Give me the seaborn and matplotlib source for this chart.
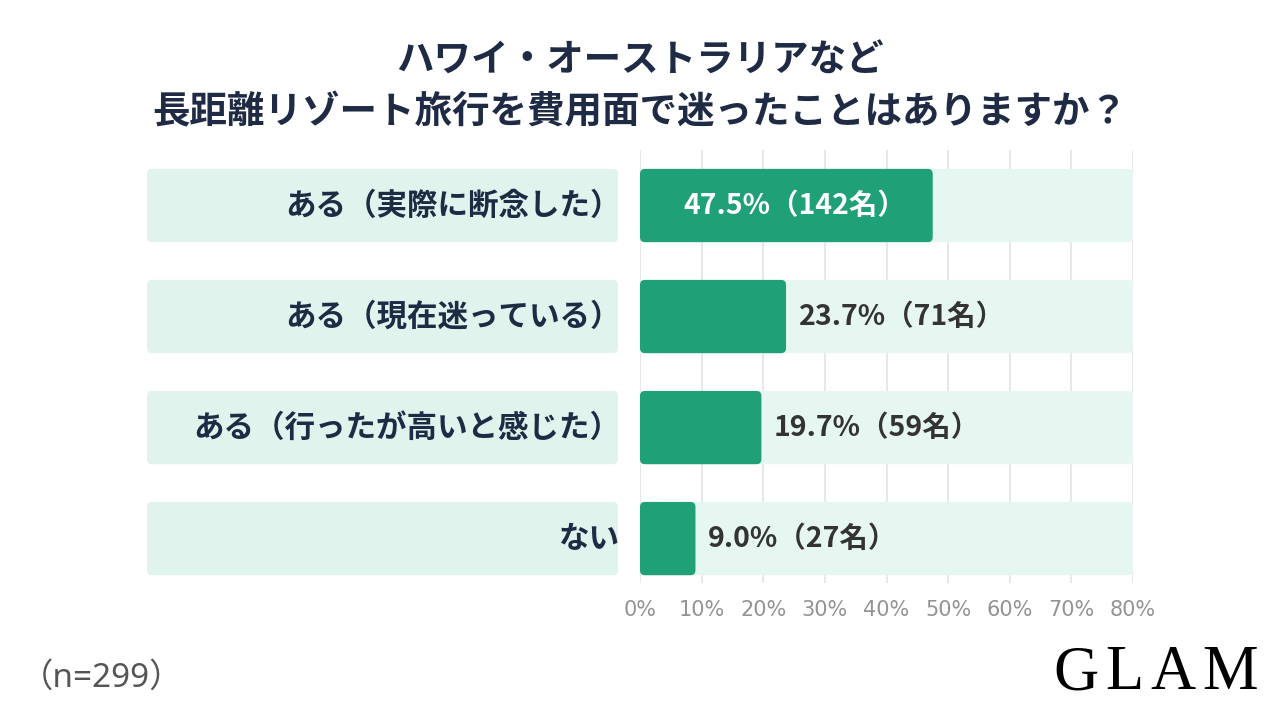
import matplotlib.pyplot as plt
import seaborn as sns
from matplotlib.patches import FancyBboxPatch

# データ
categories = ['ある（実際に断念した）', 'ある（現在迷っている）', 'ある（行ったが高いと感じた）', 'ない']
percents = [47.5, 23.7, 19.7, 9.0]
counts = [142, 71, 59, 27]
x_ticks = [0, 10, 20, 30, 40, 50, 60, 70, 80]
x_max = 80

title = 'ハワイ・オーストラリアなど\n長距離リゾート旅行を費用面で迷ったことはありますか？'
note = '（n=299）'
logo = 'GLAM'

green = '#1fa077'
mint_bar = '#e6f6f1'
mint_lab = '#e0f3ec'
navy = '#1f2a44'
latin_jp = ['Noto Sans', 'Noto Sans CJK JP']

sns.set_style('white')
plt.rcParams['font.family'] = ['Noto Sans CJK JP', 'DejaVu Sans']

W, H = 1280, 720
fig = plt.figure(figsize=(12.8, 7.2), dpi=100)

# 棒グラフ領域とラベル領域
ax = fig.add_axes([640 / W, 1 - 583 / H, 493 / W, 433 / H])
ax_lab = fig.add_axes([147 / W, 1 - 583 / H, 471 / W, 433 / H])

# 背景バーと値のバー
sns.barplot(x=[x_max] * len(categories), y=categories, orient='h', color=mint_bar,
            width=0.66, ax=ax, saturation=1)
sns.barplot(x=percents, y=categories, orient='h', color=green,
            width=0.66, ax=ax, saturation=1)
sns.barplot(x=[1] * len(categories), y=categories, orient='h', color=mint_lab,
            width=0.66, ax=ax_lab, saturation=1)

for a, xlim in ((ax, (0, x_max)), (ax_lab, (0, 1))):
    a.set_xlim(*xlim)
    a.set_ylim(3.4, -0.5)


def round_bars(axis, radius_px=5):
    # 角丸のバーに置き換える
    bb = axis.get_window_extent()
    x0, x1 = axis.get_xlim()
    y0, y1 = axis.get_ylim()
    rx = radius_px / (bb.width / abs(x1 - x0))
    ry = radius_px / (bb.height / abs(y1 - y0))
    for p in list(axis.patches):
        x, y, w, h = p.get_x(), p.get_y(), p.get_width(), p.get_height()
        fc = p.get_facecolor()
        p.remove()
        axis.add_patch(FancyBboxPatch((x, y), w, h,
                                      boxstyle=f'round,pad=0,rounding_size={rx}',
                                      mutation_aspect=ry / rx, facecolor=fc,
                                      edgecolor='none', zorder=2))


round_bars(ax)
round_bars(ax_lab)

# 値のラベル
for i, (p, c) in enumerate(zip(percents, counts)):
    txt = f'{p:.1f}%（{c}名）'
    if p > 30:
        ax.annotate(txt, (p / 2, i), xytext=(6, 0), textcoords='offset points',
                    ha='center', va='center', color='white',
                    fontsize=20.5, weight='bold', zorder=3)
    else:
        ax.annotate(txt, (p, i), xytext=(9, 0), textcoords='offset points',
                    ha='left', va='center', color='#333333', fontsize=20.5,
                    weight='bold', zorder=3)

# カテゴリラベル
for i, cat in enumerate(categories):
    ax_lab.text(1.005, i, cat, ha='right', va='center', color=navy,
                fontsize=22, weight='bold', zorder=3)

# 軸の体裁
ax.set_axisbelow(True)
ax.xaxis.grid(True, color='#e8e8e8', linewidth=1.5)
ax.yaxis.grid(False)
ax.set_xticks(x_ticks)
ax.set_xticklabels([f'{t}%' for t in x_ticks])
for lbl in ax.get_xticklabels():
    lbl.set_family('DejaVu Sans')
ax.tick_params(axis='x', length=0, pad=12, labelsize=15, labelcolor='#939393')
ax.set_yticks([])
ax.set_xlabel('')
ax.set_ylabel('')
for s in ax.spines.values():
    s.set_visible(False)
ax_lab.axis('off')

# タイトルと注記
fig.text(0.5, 1 - 86 / H, title, ha='center', va='center', color=navy,
         fontsize=27, weight='bold', linespacing=1.42)
fig.text(20 / W, 1 - 678 / H, note, ha='left', va='center', color='#555555',
         fontsize=24, family=latin_jp)

# ロゴ（字間を広げて一文字ずつ配置）
renderer = fig.canvas.get_renderer()
x_px = 1053
for ch in logo:
    t = fig.text(x_px / W, 1 - 674 / H, ch, ha='left', va='center', color='black',
                 family='Liberation Serif', fontsize=45)
    x_px += t.get_window_extent(renderer).width + 7

fig.savefig('out.png', dpi=100)
